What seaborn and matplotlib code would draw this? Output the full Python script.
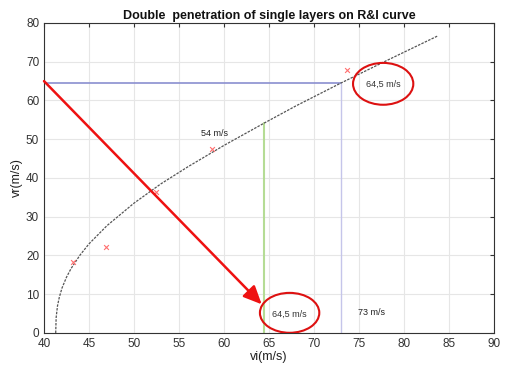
import matplotlib
matplotlib.use("Agg")
import matplotlib.pyplot as plt
from matplotlib.patches import Ellipse
import seaborn as sns
import pandas as pd

# R&I curve
curve_vi = [41.3, 41.35, 41.5, 41.7, 42.0, 42.5, 43.0, 44.0, 45.0, 47.0, 50.0, 53.0,
            56.0, 60.0, 64.5, 68.0, 73.0, 78.0, 83.8]
curve_vr = [0.0, 4.0, 7.0, 9.2, 11.6, 14.4, 16.6, 20.1, 23.0, 27.7, 33.5, 38.5,
            42.9, 48.4, 54.2, 58.6, 64.5, 70.2, 76.7]
# measured points
meas_vi = [43.2, 46.9, 52.4, 58.7, 73.7]
meas_vr = [18.3, 22.3, 36.4, 47.5, 67.9]

vi_tick = [40, 45, 50, 55, 60, 65, 70, 75, 80, 85, 90]
vr_tick = [0, 10, 20, 30, 40, 50, 60, 70, 80]

sns.set_style("white")
plt.rcParams['font.family'] = ['Liberation Sans', 'DejaVu Sans']

fig = plt.figure(figsize=(5.07, 3.69), dpi=100)
ax = fig.add_axes([0.0868, 0.0976, 0.8872, 0.8401])

curve = pd.DataFrame({"vi": curve_vi, "vr": curve_vr})
meas = pd.DataFrame({"vi": meas_vi, "vr": meas_vr})

ax.grid(True, color="#e6e6e6", lw=0.8, zorder=0)
ax.set_axisbelow(True)

# helper lines
ax.plot([40, 73], [64.5, 64.5], color="#8a8fd0", lw=1.2, zorder=2)
ax.plot([73, 73], [0, 64.5], color="#c5c5ea", lw=1.0, zorder=2)
ax.plot([64.5, 64.5], [0, 54.2], color="#b5dc95", lw=1.5, zorder=2)

sns.lineplot(data=curve, x="vi", y="vr", ax=ax, color="#555555", lw=0.9,
             linestyle=(0, (2, 1)), sort=False, zorder=3)
sns.scatterplot(data=meas, x="vi", y="vr", ax=ax, marker="x", color="#ff7070",
                s=12, linewidth=0.8, zorder=4)

# arrow
ax.annotate("", xy=(64.2, 7.4), xytext=(40, 65),
            arrowprops=dict(arrowstyle="-|>,head_length=1.1,head_width=0.5",
                            color="#ee1111", lw=1.8, shrinkA=0, shrinkB=0),
            zorder=5, annotation_clip=False)

# ellipses
ax.add_patch(Ellipse((67.3, 5.2), 6.6, 10.3, fill=False, edgecolor="#dd1111", lw=1.5, zorder=5))
ax.add_patch(Ellipse((77.7, 64.3), 6.7, 10.8, fill=False, edgecolor="#dd1111", lw=1.5, zorder=5))

ax.text(67.3, 4.9, "64,5 m/s", fontsize=6.5, ha="center", va="center", color="#333333", zorder=6)
ax.text(77.7, 64.1, "64,5 m/s", fontsize=6.5, ha="center", va="center", color="#333333", zorder=6)
ax.text(76.4, 5.4, "73 m/s", fontsize=6.5, ha="center", va="center", color="#222222", zorder=6)
ax.text(59.0, 51.6, "54 m/s", fontsize=6.5, ha="center", va="center", color="#222222", zorder=6)

ax.set_xlim(40, 90)
ax.set_ylim(0, 80)
ax.set_xticks(vi_tick)
ax.set_yticks(vr_tick)
ax.tick_params(direction="in", length=3, width=0.8, labelsize=8.5, colors="#333333",
               top=True, right=True, labeltop=False, labelright=False)
for s in ax.spines.values():
    s.set_color("#333333")
    s.set_linewidth(0.8)

ax.set_xlabel("vi(m/s)", fontsize=9, color="#222222", labelpad=1)
ax.set_ylabel("vr(m/s)", fontsize=9, color="#222222", labelpad=2)
ax.set_title("Double  penetration of single layers on R&I curve", fontsize=9,
             fontweight="bold", color="#111111", pad=3)

fig.savefig("out.png", dpi=100)
